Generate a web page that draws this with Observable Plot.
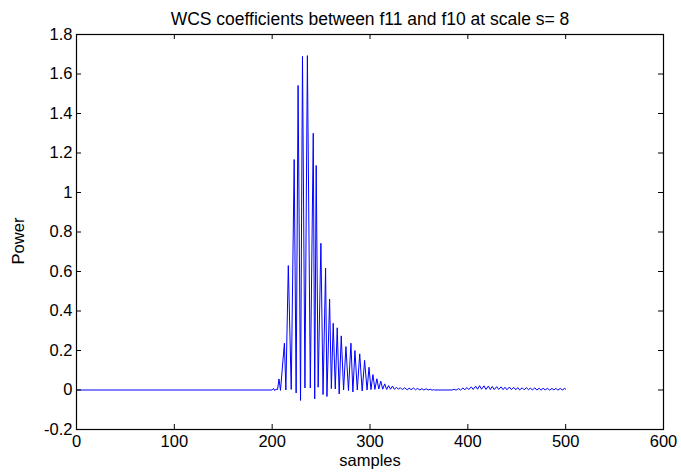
<!DOCTYPE html>
<html>
<head>
<meta charset="utf-8">
<script src="https://cdn.jsdelivr.net/npm/d3@7"></script>
<script src="https://cdn.jsdelivr.net/npm/@observablehq/plot@0.6"></script>
<style>
  html, body { margin: 0; padding: 0; background: #fff; overflow: hidden; }
  #chart svg { display: block; overflow: visible; }
</style>
</head>
<body>
<div id="chart"></div>
<script>
const titleText = "WCS coefficients between f11 and f10 at scale s= 8";
const xLabel = "samples";
const yLabel = "Power";
const xTicks = [0, 100, 200, 300, 400, 500, 600];
const yTicks = [-0.2, 0, 0.2, 0.4, 0.6, 0.8, 1, 1.2, 1.4, 1.6, 1.8];

// vertices of the plotted curve
const samples = [
  0, 200, 201.5, 202.5, 204, 205.5, 207, 208.5,
  212.5, 214, 216.5, 219.5, 222.5, 224.5, 226.5, 229, 231, 233.5, 236, 239,
  242, 243.5, 245, 247, 249.8, 252, 254.6, 256, 258.7, 260.5, 262.4, 264.5,
  266.5, 268.5, 270.6, 273, 275.4, 278, 280.5, 282.5, 284.6, 287, 289.5, 292,
  294.5, 297, 299, 301, 303, 305, 307, 309, 311, 313, 315, 317, 319, 321, 323,
  325, 327, 329,
  331, 333, 335.5, 338, 340, 342, 344.5, 346.5, 348.5, 351, 353, 355, 357.5,
  359.5, 361.5, 363.5, 365, 366, 384,
  386, 388, 390.5, 392.5, 395, 397, 399, 401, 403.5, 405.5, 408, 410, 412, 414,
  416.5, 418.5, 421, 423, 425, 427, 429.5, 431.5, 434, 436, 438, 440, 442.5,
  444.5, 447, 449, 451, 453, 455.5, 457.5, 460, 462, 464, 466, 468.5, 470.5,
  473, 475, 477, 479, 481.5, 483.5, 486, 488, 490, 492, 494.5, 496.5, 499, 500
];
const power = [
  0, 0, 0.008, -0.003, 0.004, 0.002, 0.056, -0.002,
  0.237, 0.0, 0.63, 0.003, 1.167, -0.015, 1.542, -0.053, 1.689, 0.01, 1.693, 0.01,
  1.30, -0.045, 1.137, 0.014, 0.743, -0.023, 0.617, -0.033, 0.46, 0.007, 0.338, 0.005,
  0.315, -0.02, 0.274, 0.0, 0.22, -0.003, 0.237, -0.01, 0.2, 0.0, 0.183, -0.005,
  0.15, 0.0, 0.115, 0.002, 0.078, 0.003, 0.057, 0.005, 0.045, 0.004, 0.031, 0.003, 0.022, 0.004, 0.02,
  0.003, 0.014, 0.004,
  0.012, 0.002, 0.011, 0.001, 0.009, 0.002, 0.01, 0.001, 0.008, 0.0, 0.007, 0.0, 0.006,
  0.0, 0.004, -0.001, 0.002, 0, 0,
  0.004, -0.001, 0.007, 0.0, 0.01, 0.001, 0.013, 0.002, 0.016, 0.003, 0.019, 0.004, 0.022, 0.004,
  0.021, 0.003, 0.02, 0.002, 0.018, 0.002, 0.017, 0.003, 0.016, 0.002, 0.014, 0.001, 0.015,
  0.002, 0.013, 0.001, 0.012, 0.0, 0.011, 0.001, 0.012, 0.001, 0.01, 0.0, 0.011, 0.0,
  0.009, -0.001, 0.01, 0.0, 0.009, -0.001, 0.008, 0.0, 0.009, -0.001, 0.008, 0.0, 0.008, 0.004
];

const data = samples.map((s, i) => ({x: s, y: power[i]}));

const W = 681, H = 473;
const mL = 76, mR = 18, mT = 34, mB = 44;
const innerW = W - mL - mR, innerH = H - mT - mB;
const tickLen = 5;
const fmt = d => String(Math.round(d * 10) / 10);
const fs = 16.5;

const chart = Plot.plot({
  width: W,
  height: H,
  marginLeft: mL,
  marginRight: mR,
  marginTop: mT,
  marginBottom: mB,
  style: {fontFamily: "'Liberation Sans', Arial, Helvetica, sans-serif", fontSize: fs + "px", color: "black", background: "white"},
  x: {domain: [0, 600], ticks: xTicks},
  y: {domain: [-0.2, 1.8], ticks: yTicks},
  marks: [
    Plot.line(data, {x: "x", y: "y", stroke: "#0000ff", strokeWidth: 1, curve: "linear"}),
    Plot.frame({stroke: "black", strokeWidth: 1.2}),
    // inward ticks (bottom/top)
    Plot.tickX(xTicks, {x: d => d, stroke: "black", insetTop: innerH - tickLen}),
    Plot.tickX(xTicks, {x: d => d, stroke: "black", insetBottom: innerH - tickLen}),
    // inward ticks (left/right)
    Plot.tickY(yTicks, {y: d => d, stroke: "black", insetRight: innerW - tickLen}),
    Plot.tickY(yTicks, {y: d => d, stroke: "black", insetLeft: innerW - tickLen}),
    Plot.axisX(xTicks, {tickSize: 0, tickPadding: 6, tickFormat: fmt, label: null, fontSize: fs}),
    Plot.axisY(yTicks, {tickSize: 0, tickPadding: 4, tickFormat: fmt, label: null, fontSize: fs}),
    Plot.text([xLabel], {frameAnchor: "bottom", dy: 36, text: d => d, fontSize: fs, fill: "black"}),
    Plot.text([yLabel], {frameAnchor: "left", textAnchor: "middle", dx: -58, dy: 9, rotate: -90, text: d => d, fontSize: fs, fill: "black"}),
    Plot.text([titleText], {frameAnchor: "top", dy: -22, text: d => d, fontSize: 17.5, fill: "black"})
  ]
});

document.getElementById("chart").appendChild(chart);
</script>
</body>
</html>
